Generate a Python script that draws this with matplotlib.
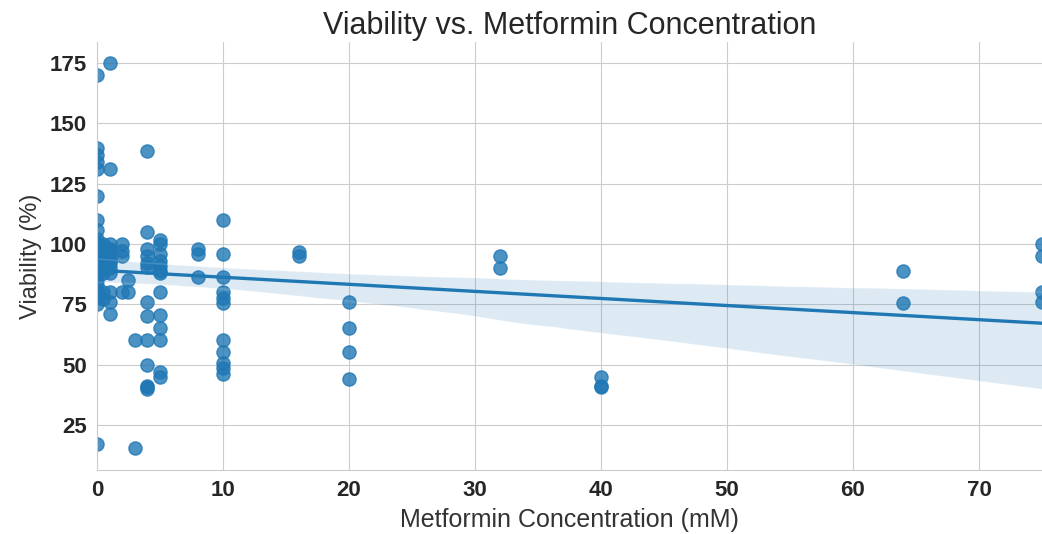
import matplotlib
matplotlib.use("Agg")
import matplotlib.pyplot as plt
import numpy as np
import pandas as pd
import seaborn as sns

# metformin dose (mM) per measured point, grouped by dose column
# (the untreated controls at 100 % sit on top of each other in the picture)
conc_0 = [0] * 39
via_0 = [170, 140, 137, 134, 131, 120, 110, 106, 102,
         100, 100, 100, 100, 100, 100, 100, 100, 100, 100, 100, 100, 100,
         98, 96, 95, 94, 93, 92, 91, 90, 89, 88, 87, 85, 83, 80, 78, 75, 17]
conc_05 = [0.5] * 8
via_05 = [100, 98, 95, 93, 90, 88, 80, 77]
conc_1 = [1] * 13
via_1 = [175, 131, 100, 98, 97, 95, 93, 92, 90, 88, 80, 76, 71]
conc_2 = [2] * 4
via_2 = [100, 97, 95, 80]
conc_25 = [2.5] * 2
via_25 = [85, 80]
conc_3 = [3] * 2
via_3 = [60, 15.5]
conc_4 = [4] * 13
via_4 = [138.5, 105, 98, 95, 92, 90.5, 76, 70, 60, 50, 41, 40.5, 40]
conc_5 = [5] * 13
via_5 = [101.5, 100, 96, 93, 91, 89, 88, 80, 70.5, 65, 60, 47, 45]
conc_8 = [8] * 3
via_8 = [98, 96, 86.5]
conc_10 = [10] * 11
via_10 = [110, 96, 86.5, 80, 77.5, 75.5, 60, 55, 50.5, 48.5, 46]
conc_16 = [16] * 2
via_16 = [96.5, 95]
conc_20 = [20] * 4
via_20 = [76, 65, 55, 44]
conc_32 = [32] * 2
via_32 = [95, 90]
conc_40 = [40] * 3
via_40 = [45, 41, 40.5]
conc_64 = [64] * 2
via_64 = [89, 75.5]
conc_75 = [75] * 4
via_75 = [100, 95, 80, 76]

conc = (conc_0 + conc_05 + conc_1 + conc_2 + conc_25 + conc_3 + conc_4 + conc_5
        + conc_8 + conc_10 + conc_16 + conc_20 + conc_32 + conc_40 + conc_64 + conc_75)
via = (via_0 + via_05 + via_1 + via_2 + via_25 + via_3 + via_4 + via_5
       + via_8 + via_10 + via_16 + via_20 + via_32 + via_40 + via_64 + via_75)
df = pd.DataFrame({"conc": conc, "viability": via})

sns.set_style("whitegrid")
plt.rcParams["font.family"] = ["Liberation Sans", "DejaVu Sans"]

fig = plt.figure(figsize=(10.42, 5.34), dpi=100)
ax = fig.add_axes([0.093, 0.12, 0.907, 0.801])
sns.regplot(data=df, x="conc", y="viability", ax=ax, seed=0,
            scatter_kws={"s": 90}, line_kws={"lw": 2.4})
ax.set_xlim(0, 75)
ax.set_ylim(6.3, 183.7)
ax.set_xticks([0, 10, 20, 30, 40, 50, 60, 70])
ax.set_yticks([25, 50, 75, 100, 125, 150, 175])
for lab in ax.get_xticklabels() + ax.get_yticklabels():
    lab.set_fontweight("bold")
ax.tick_params(labelsize=16, colors="#262626")
ax.set_xlabel("Metformin Concentration (mM)", fontsize=18, color="#333333", labelpad=5)
ax.set_ylabel("Viability (%)", fontsize=17, color="#333333", labelpad=6)
ax.set_title("Viability vs. Metformin Concentration", fontsize=22, color="#262626")
for side in ("top", "right"):
    ax.spines[side].set_visible(False)
for side in ("left", "bottom"):
    ax.spines[side].set_color("#cccccc")

fig.savefig("out.png", dpi=100)
